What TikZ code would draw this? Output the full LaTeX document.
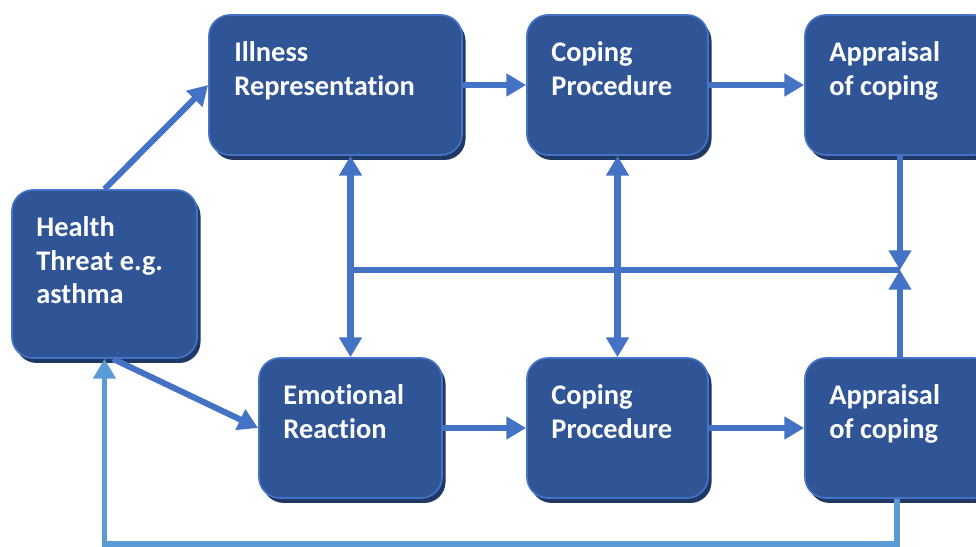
\documentclass[tikz,border=0pt]{standalone}
\usepackage{fontspec}
\setmainfont{Carlito}[Ligatures=NoCommon]
\usetikzlibrary{arrows.meta,shadows}
\definecolor{boxfill}{HTML}{2F5597}
\definecolor{boxedge}{HTML}{4472C4}
\definecolor{boxshade}{HTML}{203864}
\definecolor{arrowblue}{HTML}{4472C4}
\definecolor{loopblue}{HTML}{5B9BD5}

\begin{document}
\begin{tikzpicture}[x=0.025cm,y=-0.025cm,
    stage/.style={draw=boxedge,line width=1.2pt,fill=boxfill,rounded corners=15pt,
      general shadow={fill=boxshade,shadow xshift=2.5pt,shadow yshift=-3.5pt}},
    caption/.style={anchor=north west,inner sep=0pt,align=left,text=white,
      font=\fontsize{20.2}{24}\selectfont\bfseries},
    flow/.style={arrowblue,line width=4.3pt,-{Triangle[length=14pt,width=15.5pt]}},
    twoway/.style={flow,{Triangle[length=14pt,width=15.5pt]}-{Triangle[length=14pt,width=15.5pt]}}]
    \useasboundingbox (0,0) rectangle (976,547);
    % the stages
    \node[stage,minimum width=4.625cm,minimum height=4.2cm] (health) at (104.5,274) {};
    \node[stage,minimum width=6.325cm,minimum height=3.5cm] (ill) at (335.5,85) {};
    \node[stage,minimum width=4.525cm,minimum height=3.5cm] (cop1) at (617.5,85) {};
    \node[stage,minimum width=4.75cm,minimum height=3.5cm] (app1) at (900,85) {};
    \node[stage,minimum width=4.575cm,minimum height=3.5cm] (emo) at (350.5,428) {};
    \node[stage,minimum width=4.525cm,minimum height=3.5cm] (cop2) at (617.5,428) {};
    \node[stage,minimum width=4.75cm,minimum height=3.5cm] (app2) at (900,428) {};
    \node[caption] (healthtxt) at ([shift={(25,27)}]health.north west) {Health\\Threat e.g.\\asthma};
    \node[caption] (illtxt) at ([shift={(26,27)}]ill.north west) {Illness\\Representation};
    \node[caption] (cop1txt) at ([shift={(25,27)}]cop1.north west) {Coping\\Procedure};
    \node[caption] (app1txt) at ([shift={(25,27)}]app1.north west) {Appraisal\\of coping};
    \node[caption] (emotxt) at ([shift={(25,27)}]emo.north west) {Emotional\\Reaction};
    \node[caption] (cop2txt) at ([shift={(25,27)}]cop2.north west) {Coping\\Procedure};
    \node[caption] (app2txt) at ([shift={(25,27)}]app2.north west) {Appraisal\\of coping};
    % connectors
    \draw[flow] (health.north) -- (ill.west);
    \draw[flow] (ill.east) -- (cop1.west);
    \draw[flow] (cop1.east) -- (app1.west);
    \draw[flow] ([xshift=6pt]health.south) -- (emo.west);
    \draw[flow] (emo.east) -- (cop2.west);
    \draw[flow] (cop2.east) -- (app2.west);
    \draw[twoway] (emo.north) -- (emo.north |- ill.south);
    \draw[twoway] (cop1.south) -- (cop2.north);
    \coordinate (meet) at (900,270);
    \draw[arrowblue,line width=4.3pt] (emo.north |- meet) -- (meet);
    \draw[flow] (app1.south) -- (meet);
    \draw[flow] (app2.north) -- (meet);
    \draw[flow,loopblue,line width=4pt] ([xshift=-2.1pt]app2.south) -- ++(0,45) -| (health.south);
\end{tikzpicture}
\end{document}
